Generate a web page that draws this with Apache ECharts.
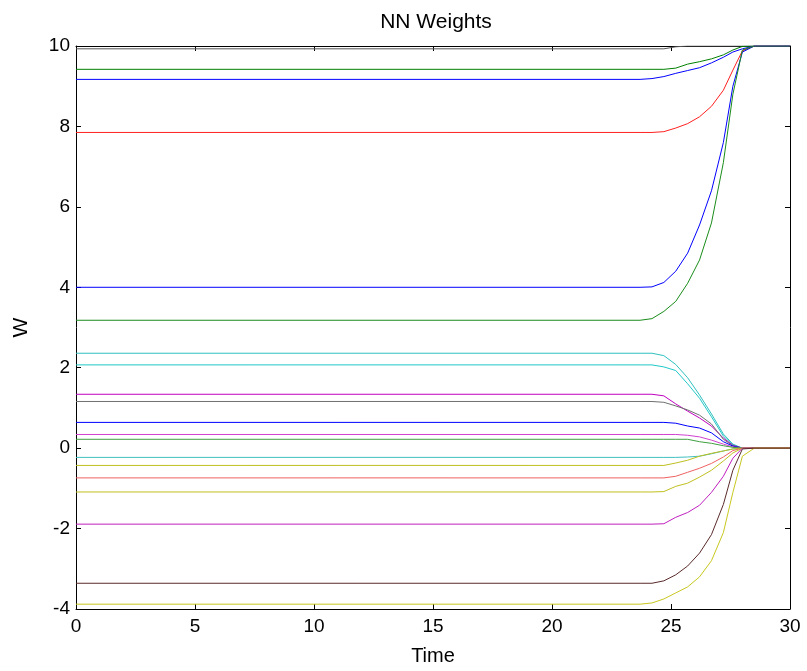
<!DOCTYPE html>
<html><head><meta charset="utf-8">
<script src="https://cdn.jsdelivr.net/npm/echarts@6/dist/echarts.min.js"></script>
<style>html,body{margin:0;padding:0;background:#fff}#c{width:807px;height:671px}</style>
</head><body><div id="c"></div>
<script>
const title = 'NN Weights';
const xLabel = 'Time';
const yLabel = 'W';
const xTicks = [0, 5, 10, 15, 20, 25, 30];
const yTicks = [-4, -2, 0, 2, 4, 6, 8, 10];
const time = [0, 23.7, 24.2, 24.7, 25.2, 25.7, 26.2, 26.7, 27.2, 27.6, 28.0, 28.5, 30];

const wK1  = [9.93, 9.93, 9.93, 9.93, 9.98, 10, 10, 10, 10, 10, 10, 10, 10];
const wG1  = [9.42, 9.42, 9.42, 9.42, 9.45, 9.55, 9.61, 9.68, 9.78, 9.9, 9.99, 10, 10];
const wB1  = [9.17, 9.17, 9.19, 9.24, 9.32, 9.39, 9.46, 9.58, 9.72, 9.85, 9.93, 10, 10];
const wR1  = [7.85, 7.85, 7.85, 7.87, 7.96, 8.07, 8.24, 8.5, 8.9, 9.4, 9.88, 10, 10];
const wB2  = [4.0, 4.0, 4.01, 4.12, 4.4, 4.85, 5.55, 6.4, 7.6, 9.0, 9.85, 10, 10];
const wG2  = [3.18, 3.18, 3.22, 3.4, 3.65, 4.1, 4.68, 5.6, 7.1, 8.8, 9.9, 10, 10];
const wC1  = [2.36, 2.36, 2.36, 2.3, 2.08, 1.75, 1.32, 0.85, 0.35, 0.1, 0, 0, 0];
const wC2  = [2.07, 2.07, 2.07, 2.02, 1.93, 1.6, 1.24, 0.78, 0.3, 0.08, 0, 0, 0];
const wM1  = [1.34, 1.34, 1.34, 1.3, 1.1, 0.92, 0.75, 0.55, 0.25, 0.07, 0, 0, 0];
const wK2  = [1.16, 1.16, 1.16, 1.14, 1.05, 0.95, 0.82, 0.6, 0.22, 0.06, 0, 0, 0];
const wB3  = [0.64, 0.64, 0.64, 0.64, 0.62, 0.55, 0.5, 0.38, 0.16, 0.05, 0, 0, 0];
const wM2  = [0.34, 0.34, 0.34, 0.34, 0.34, 0.32, 0.28, 0.2, 0.1, 0.03, 0, 0, 0];
const wG3  = [0.22, 0.22, 0.22, 0.22, 0.22, 0.22, 0.16, 0.12, 0.06, 0.02, 0, 0, 0];
const wC3  = [-0.23, -0.23, -0.23, -0.23, -0.23, -0.22, -0.2, -0.14, -0.07, -0.02, 0, 0, 0];
const wY1  = [-0.43, -0.43, -0.43, -0.43, -0.37, -0.3, -0.2, -0.13, -0.07, -0.02, 0, 0, 0];
const wR2  = [-0.74, -0.74, -0.74, -0.74, -0.7, -0.6, -0.5, -0.38, -0.22, -0.06, 0, 0, 0];
const wY2  = [-1.09, -1.09, -1.09, -1.08, -0.95, -0.87, -0.72, -0.55, -0.32, -0.12, 0, 0, 0];
const wM3  = [-1.89, -1.89, -1.89, -1.88, -1.72, -1.6, -1.42, -1.1, -0.7, -0.25, 0, 0, 0];
const wBr  = [-3.36, -3.36, -3.36, -3.3, -3.15, -2.93, -2.61, -2.15, -1.4, -0.55, -0.02, 0, 0];
const wY3  = [-3.88, -3.88, -3.85, -3.75, -3.6, -3.45, -3.2, -2.8, -2.1, -1.1, -0.2, 0, 0];

const seriesList = [
  ['w1', wK1, '#555555'], ['w2', wG1, '#008000'], ['w3', wB1, '#0000ff'], ['w4', wR1, '#ff2020'],
  ['w5', wB2, '#0000ff'], ['w6', wG2, '#1a8c1a'], ['w7', wC1, '#30c0c0'], ['w8', wC2, '#20c8c8'],
  ['w9', wM1, '#c000c0'], ['w10', wK2, '#707070'], ['w11', wB3, '#0000ff'], ['w12', wM2, '#d040d0'],
  ['w13', wG3, '#40a040'], ['w14', wC3, '#40c0c0'], ['w15', wY1, '#bfbf20'], ['w16', wR2, '#f06060'],
  ['w17', wY2, '#c0c020'], ['w18', wM3, '#c020c0'], ['w19', wY3, '#c8c820'], ['w20', wBr, '#5a2a2a']
];

const font = 'Liberation Sans, Arial, sans-serif';
const chart = echarts.init(document.getElementById('c'));
const axisCommon = {
  axisLine: { show: true, onZero: false, lineStyle: { color: '#000', width: 1 } },
  axisTick: { show: true, inside: true, length: 5, lineStyle: { color: '#000' } },
  splitLine: { show: false }
};
chart.setOption({
  animation: false,
  backgroundColor: '#fff',
  title: { text: title, left: 431, top: 7, textAlign: 'center',
    textStyle: { fontFamily: font, fontSize: 21, fontWeight: 'normal', color: '#000' } },
  grid: { left: 76, right: 17, top: 46, bottom: 61 },
  xAxis: [
    Object.assign({ type: 'value', min: xTicks[0], max: xTicks[xTicks.length - 1], interval: 5, name: xLabel,
      nameLocation: 'middle', nameGap: 37, nameTextStyle: { fontFamily: font, fontSize: 20, color: '#000' },
      axisLabel: { fontFamily: font, fontSize: 19, color: '#000', margin: 8 } }, axisCommon),
    Object.assign({ type: 'value', position: 'top', min: xTicks[0], max: xTicks[xTicks.length - 1], interval: 5,
      axisLabel: { show: false } }, axisCommon)
  ],
  yAxis: [
    Object.assign({ type: 'value', min: yTicks[0], max: yTicks[yTicks.length - 1], interval: 2, name: yLabel,
      nameLocation: 'middle', nameGap: 44, nameTextStyle: { fontFamily: font, fontSize: 21, color: '#000' },
      axisLabel: { fontFamily: font, fontSize: 19, color: '#000', margin: 6 } }, axisCommon),
    Object.assign({ type: 'value', position: 'right', min: yTicks[0], max: yTicks[yTicks.length - 1], interval: 2,
      axisLabel: { show: false } }, axisCommon)
  ],
  series: seriesList.map(([name, vals, color]) => ({
    name, type: 'line', showSymbol: false, symbol: 'none',
    data: time.map((t, i) => [t, vals[i]]),
    lineStyle: { color, width: 1 }, itemStyle: { color }
  }))
});
</script></body></html>
